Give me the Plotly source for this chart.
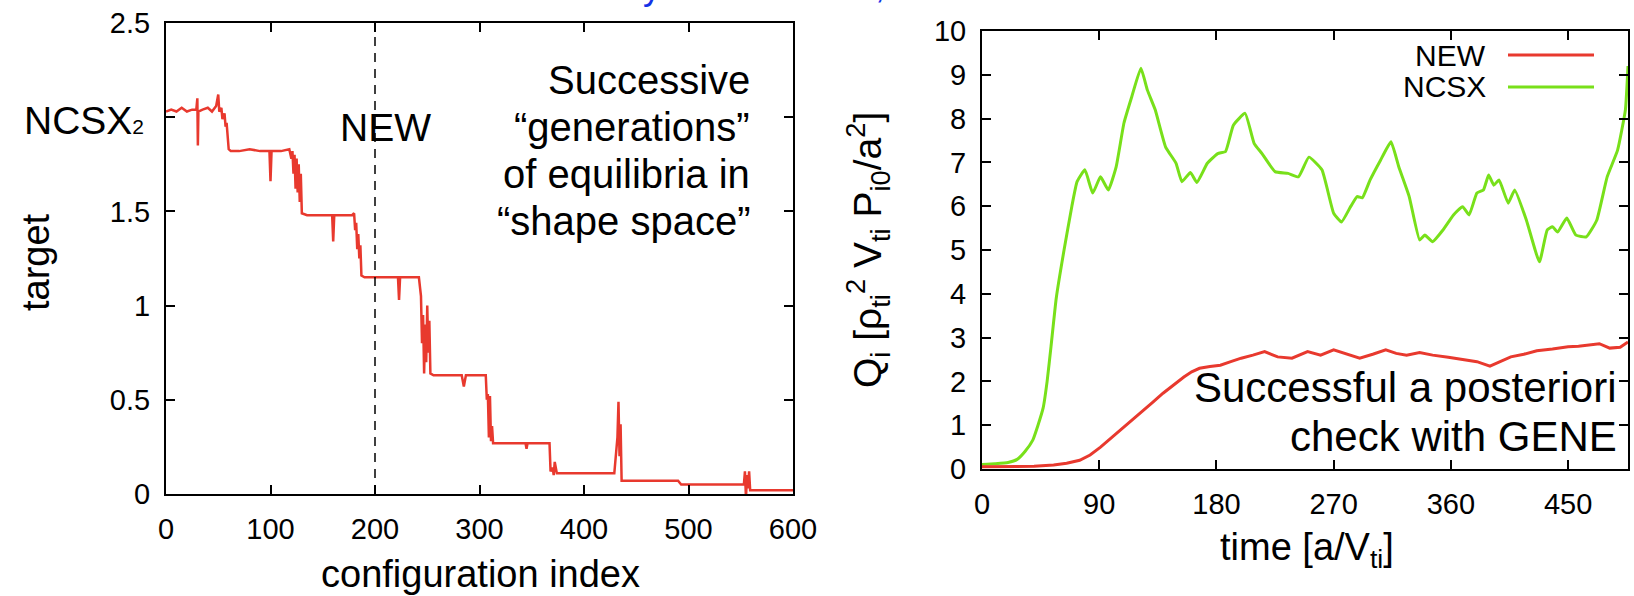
import plotly.graph_objects as go

W, H = 1634, 596

# ---------------- data: left panel (optimizer history) ----------------
config_index = [0, 5, 10, 15, 20, 25, 29, 30, 30.5, 31, 35, 40, 44, 48, 50, 51, 53, 54, 56, 57, 58, 60, 62,
                70, 80, 90, 99, 100, 101, 110, 118, 120, 121, 122, 123, 124, 125, 126, 127, 128, 129, 130,
                135, 145, 155, 159, 160, 161, 170, 178, 180, 181, 182, 183, 184, 185, 186, 187, 190, 200,
                210, 222, 223, 224, 235, 242, 244, 245, 246, 247, 248, 249, 250, 251, 252, 253, 256, 270,
                283, 285, 287, 300, 306, 307, 308, 309, 310, 311, 312, 313, 315, 330, 344, 345, 346, 360,
                367, 368, 370, 371, 372, 374, 380, 400, 420, 429, 432, 433, 434, 435, 436, 440, 460, 490,
                493, 510, 530, 553, 554, 555, 556, 557, 558, 559, 565, 580, 600]
target = [2.03, 2.04, 2.03, 2.05, 2.03, 2.04, 2.04, 2.10, 1.85, 2.03, 2.04, 2.05, 2.03, 2.06, 2.12, 2.03,
          2.05, 1.99, 2.02, 1.95, 1.97, 1.83, 1.82,
          1.82, 1.83, 1.82, 1.82, 1.66, 1.82, 1.82, 1.83, 1.78, 1.82, 1.70, 1.80, 1.62, 1.78, 1.60, 1.75,
          1.55, 1.70, 1.49,
          1.48, 1.48, 1.48, 1.48, 1.34, 1.48, 1.48, 1.48, 1.49, 1.40, 1.44, 1.30, 1.38, 1.25, 1.32, 1.16,
          1.15, 1.15,
          1.15, 1.15, 1.03, 1.15, 1.15, 1.15, 1.05, 0.80, 0.95, 0.64, 0.90, 0.70, 1.00, 0.75, 0.92, 0.64,
          0.63, 0.63,
          0.63, 0.57, 0.63, 0.63, 0.63, 0.50, 0.53, 0.30, 0.52, 0.28, 0.36, 0.27, 0.27, 0.27, 0.27, 0.24,
          0.27, 0.27,
          0.27, 0.12, 0.14, 0.10, 0.17, 0.11, 0.11, 0.11, 0.11, 0.11, 0.30, 0.49, 0.20, 0.37, 0.07, 0.07,
          0.07, 0.07,
          0.05, 0.05, 0.05, 0.05, 0.12, -0.02, 0.10, 0.03, 0.12, 0.02, 0.02, 0.02, 0.02]
new_config = 200
left_xticks = [0, 100, 200, 300, 400, 500, 600]
left_yticks = [0, 0.5, 1, 1.5, 2, 2.5]
left_yticktext = ["0", "0.5", "1", "1.5", "", "2.5"]

# ---------------- data: right panel (GENE heat flux) ----------------
time_ncsx = [0, 10, 20, 27, 33, 39, 43, 47, 50, 53, 57, 63, 69, 73, 79, 85, 91, 97, 103, 109, 115, 122,
             127, 133, 141, 149, 153.5, 160, 165, 173, 181, 187, 193, 202, 209, 215, 225, 235, 243, 251,
             261, 270, 276, 283, 288, 292, 298, 306, 314, 320, 328, 336, 340, 346, 354, 362, 369, 374,
             380, 385, 389, 393, 397, 404, 409, 418, 428, 434, 438, 442, 449, 456, 464, 472, 480, 488,
             494, 496]
q_ncsx = [0.10, 0.12, 0.15, 0.22, 0.40, 0.66, 1.0, 1.4, 2.0, 2.8, 3.9, 5.0, 6.0, 6.56, 6.83, 6.3, 6.67,
          6.37, 6.9, 7.9, 8.5, 9.15,
          8.65, 8.2, 7.35, 6.98, 6.56, 6.77, 6.54, 6.98, 7.2, 7.25, 7.85, 8.12, 7.43, 7.2, 6.79, 6.75,
          6.67, 7.12,
          6.83, 5.84, 5.64, 5.99, 6.22, 6.19, 6.6, 7.05, 7.47, 6.9, 6.22, 5.23, 5.34, 5.19, 5.46, 5.8,
          5.99, 5.8,
          6.3, 6.37, 6.71, 6.48, 6.6, 6.07, 6.37, 5.68, 4.73, 5.46, 5.53, 5.41, 5.73, 5.34, 5.3, 5.68,
          6.67, 7.28,
          8.2, 9.2]
time_new = [0, 20, 40, 55, 65, 75, 83, 91, 99, 107, 115, 123, 131, 139, 147, 155, 161, 167, 175, 183,
            191, 199, 208, 217, 227, 238, 250, 260, 270, 280, 290, 300, 310, 318, 326, 336, 346, 358, 370,
            380, 390, 398, 406, 416, 426, 438, 450, 458, 466, 474, 482, 490, 496]
q_new = [0.05, 0.05, 0.06, 0.09, 0.13, 0.2, 0.32, 0.5, 0.7, 0.9, 1.1, 1.3, 1.52, 1.73, 1.92, 2.1, 2.22,
         2.3, 2.34, 2.37, 2.45, 2.53, 2.6, 2.68, 2.56, 2.53, 2.68, 2.6, 2.72, 2.62, 2.53, 2.62, 2.72, 2.64,
         2.6, 2.66, 2.6, 2.55, 2.49, 2.45, 2.35, 2.45, 2.56, 2.62, 2.7, 2.74, 2.79, 2.8, 2.83, 2.86, 2.76,
         2.78, 2.9]
right_xticks = [0, 90, 180, 270, 360, 450]
right_yticks = list(range(0, 11))

RED = "#e8392e"
GREEN = "#78e01a"
FONT = "Liberation Sans, Arial, Helvetica, sans-serif"


def fx(p):
    return p / W


def fy(p):
    return 1 - p / H


fig = go.Figure()
fig.add_trace(go.Scatter(x=config_index, y=target, mode="lines", line=dict(color=RED, width=2.5),
                         xaxis="x", yaxis="y", showlegend=False))
fig.add_trace(go.Scatter(x=[new_config, new_config], y=[0, 2.5], mode="lines",
                         line=dict(color="black", width=1.5, dash="9px,7px"),
                         xaxis="x", yaxis="y", showlegend=False))
fig.add_trace(go.Scatter(x=time_ncsx, y=q_ncsx, mode="lines",
                         line=dict(color=GREEN, width=3, shape="spline", smoothing=0.4),
                         xaxis="x2", yaxis="y2", showlegend=False))
fig.add_trace(go.Scatter(x=time_new, y=q_new, mode="lines", line=dict(color=RED, width=3),
                         xaxis="x2", yaxis="y2", showlegend=False))

axis_common = dict(showline=True, linecolor="black", linewidth=2, mirror="ticks", ticks="inside",
                   ticklen=9, tickwidth=1.5, tickcolor="black", showgrid=False, zeroline=False,
                   automargin=False, tickfont=dict(size=29, color="black", family=FONT))

fig.update_layout(
    width=W, height=H, margin=dict(l=0, r=0, t=0, b=0, autoexpand=False),
    paper_bgcolor="white", plot_bgcolor="white",
    font=dict(family=FONT, color="black"),
    xaxis=dict(domain=[fx(166), fx(793)], range=[0, 600], tickvals=left_xticks, anchor="y",
               ticklabelstandoff=8, **axis_common),
    yaxis=dict(domain=[fy(494), fy(23)], range=[0, 2.5], tickvals=left_yticks, ticktext=left_yticktext,
               anchor="x", ticklabelstandoff=8, **axis_common),
    xaxis2=dict(domain=[fx(982), fx(1628)], range=[0, 496], tickvals=right_xticks, anchor="y2",
                ticklabelstandoff=8, **axis_common),
    yaxis2=dict(domain=[fy(469), fy(31)], range=[0, 10], tickvals=right_yticks, anchor="x2",
                ticklabelstandoff=8, **axis_common),
)

ann = []


def text(t, x, y, size, xanchor="center", yanchor="middle", angle=0, color="black"):
    ann.append(dict(text=t, x=fx(x), y=fy(y), xref="paper", yref="paper", showarrow=False,
                    xanchor=xanchor, yanchor=yanchor, textangle=angle,
                    font=dict(size=size, color=color, family=FONT)))


# axis titles
text("target", 36, 262, 38, angle=-90)
text("configuration index", 480, 574, 38)
text("time [a/V<sub>ti</sub>]", 1307, 550, 38)
text("Q<sub>i</sub>\u00a0[ρ<sub>ti</sub><sup>2</sup> V<sub>ti</sub>\u00a0P<sub>i0</sub>/a<sup>2</sup>]", 868, 250, 39,
     angle=-90)

# in-plot labels
text("NCSX<span style='font-size:21px'>2</span>", 146, 121, 39, xanchor="right")
text("NEW", 385, 127, 39)
for line, yc in zip(["Successive", "“generations”", "of equilibria in", "“shape space”"], [80, 127, 174, 221]):
    text(line, 752, yc, 40, xanchor="right")
for line, yc in zip(["Successful a posteriori", "check with GENE"], [388, 436]):
    text(line, 1619, yc, 42, xanchor="right")

# legend (gnuplot style: label left of sample)
text("NEW", 1488, 55, 30, xanchor="right")
text("NCSX", 1488, 87, 30, xanchor="right")
shapes = [
    dict(type="line", xref="paper", yref="paper", x0=fx(1508), x1=fx(1594), y0=fy(55), y1=fy(55),
         line=dict(color=RED, width=3)),
    dict(type="line", xref="paper", yref="paper", x0=fx(1508), x1=fx(1594), y0=fy(87), y1=fy(87),
         line=dict(color=GREEN, width=3)),
]

# clipped slide-title fragments at the very top
text("y", 652, -14, 36, color="#1432e6")
text(",", 880, -15, 36, color="#1432e6")

fig.update_layout(annotations=ann, shapes=shapes)
fig.write_html("out.html", config={"displayModeBar": False},
               post_script="document.body.style.margin='0px';document.body.style.overflow='hidden';")
